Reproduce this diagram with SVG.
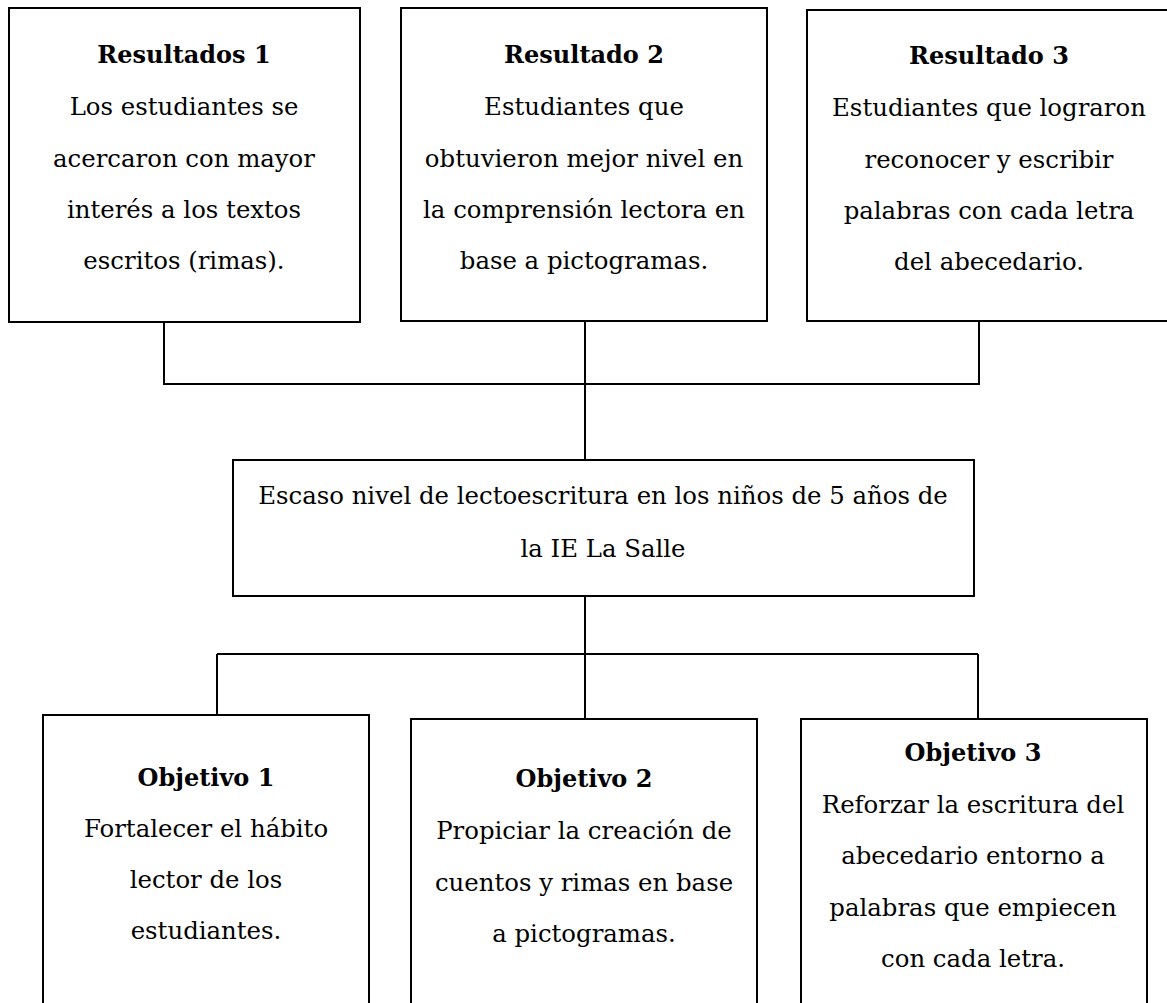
<svg xmlns="http://www.w3.org/2000/svg" width="1167" height="1003" viewBox="0 0 1167 1003">
<style>
.box{fill:#fff;stroke:#000;stroke-width:2}
.ln{fill:none;stroke:#000;stroke-width:2}
text{font-family:"DejaVu Serif","Liberation Serif",serif;font-size:24.4px;fill:#000;text-anchor:middle}
.h{font-weight:bold;font-size:24px}
</style>
<rect width="1167" height="1003" fill="#fff"/>
<g id="connectors">
<path class="ln" d="M164 321V384M585 321V460M979 321V384M163 384H980"/>
<path class="ln" d="M585 596V654M217 654H978M217 654V715M585 654V719M978 654V719"/>
</g>
<g id="resultado1">
<rect class="box" x="9" y="8" width="351" height="314"/>
<text class="h" x="184" y="63">Resultados 1</text>
<text x="184" y="115">Los estudiantes se</text>
<text x="184" y="167">acercaron con mayor</text>
<text x="184" y="218">interés a los textos</text>
<text x="184" y="269">escritos (rimas).</text>
</g>
<g id="resultado2">
<rect class="box" x="401" y="8" width="366" height="313"/>
<text class="h" x="584" y="63">Resultado 2</text>
<text x="584" y="115">Estudiantes que</text>
<text x="584" y="167">obtuvieron mejor nivel en</text>
<text x="584" y="218">la comprensión lectora en</text>
<text x="584" y="269">base a pictogramas.</text>
</g>
<g id="resultado3">
<rect class="box" x="807" y="10" width="380" height="311"/>
<text class="h" x="989" y="64">Resultado 3</text>
<text x="989" y="116">Estudiantes que lograron</text>
<text x="989" y="168">reconocer y escribir</text>
<text x="989" y="219">palabras con cada letra</text>
<text x="989" y="270">del abecedario.</text>
</g>
<g id="problema">
<rect class="box" x="233" y="460" width="741" height="136"/>
<text x="603" y="504">Escaso nivel de lectoescritura en los niños de 5 años de</text>
<text x="603" y="557">la IE La Salle</text>
</g>
<g id="objetivo1">
<rect class="box" x="43" y="715" width="326" height="310"/>
<text class="h" x="206" y="786">Objetivo 1</text>
<text x="206" y="837">Fortalecer el hábito</text>
<text x="206" y="888">lector de los</text>
<text x="206" y="939">estudiantes.</text>
</g>
<g id="objetivo2">
<rect class="box" x="411" y="719" width="346" height="306"/>
<text class="h" x="584" y="787">Objetivo 2</text>
<text x="584" y="839">Propiciar la creación de</text>
<text x="584" y="891">cuentos y rimas en base</text>
<text x="584" y="942">a pictogramas.</text>
</g>
<g id="objetivo3">
<rect class="box" x="801" y="719" width="346" height="306"/>
<text class="h" x="973" y="761">Objetivo 3</text>
<text x="973" y="813">Reforzar la escritura del</text>
<text x="973" y="864">abecedario entorno a</text>
<text x="973" y="916">palabras que empiecen</text>
<text x="973" y="967">con cada letra.</text>
</g>
</svg>
